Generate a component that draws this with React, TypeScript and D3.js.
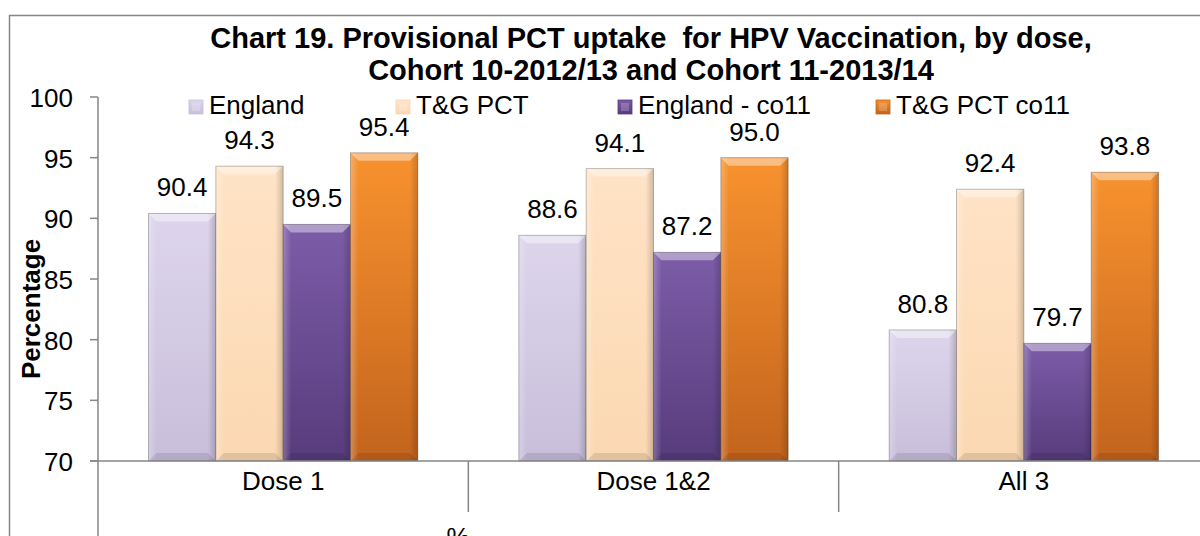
import { useEffect } from "react";
import * as d3 from "d3";

const categories = ["Dose 1", "Dose 1&2", "All 3"];
const seriesNames = ["England", "T&G PCT", "England - co11", "T&G PCT co11"];
const england = [90.4, 88.6, 80.8];
const tgPct = [94.3, 94.1, 92.4];
const englandCo11 = [89.5, 87.2, 79.7];
const tgPctCo11 = [95.4, 95.0, 93.8];
const yTicks = [70, 75, 80, 85, 90, 95, 100];

const seriesValues = [england, tgPct, englandCo11, tgPctCo11];
// top / bottom colours for each series' gradient
const palette = [
  ["#ddd5ec", "#c8bedb"],
  ["#ffe3c6", "#fbd8b2"],
  ["#7c5ca8", "#573c7c"],
  ["#f8922f", "#c3641d"],
];
const legendX = [189, 396, 618, 876];

const FONT = "'Liberation Sans', Arial, sans-serif";
const W = 1200;
const H = 536;

const App = () => {
  useEffect(() => {
    document.body.style.margin = "0";
  }, []);

  const y = d3.scaleLinear().domain([70, 100]).range([461, 97]);
  const x0 = d3.scaleBand().domain(categories).range([98, 1209]).padding(0);
  const x1 = d3
    .scaleBand()
    .domain(seriesNames)
    .range([0, x0.bandwidth()])
    .paddingInner(0)
    .paddingOuter(0.75);
  const bw = x1.bandwidth();
  const bevel = 8;

  return (
    <svg width={W} height={H} style={{ display: "block" }} fontFamily={FONT}>
      <defs>
        {palette.map((c, i) => (
          <linearGradient key={i} id={`g${i}`} x1="0" y1="0" x2="0" y2="1">
            <stop offset="0" stopColor={c[0]} />
            <stop offset="1" stopColor={c[1]} />
          </linearGradient>
        ))}
        <linearGradient id="side" x1="0" y1="0" x2="1" y2="0">
          <stop offset="0" stopColor="#fff" stopOpacity="0.25" />
          <stop offset="0.12" stopColor="#fff" stopOpacity="0" />
          <stop offset="0.88" stopColor="#000" stopOpacity="0" />
          <stop offset="1" stopColor="#000" stopOpacity="0.18" />
        </linearGradient>
      </defs>
      <rect width={W} height={H} fill="#fff" />

      {/* chart frame */}
      <path d={`M9.5,${H} V15.5 H${W}`} fill="none" stroke="#868686" strokeWidth={1.5} />

      {/* title */}
      <text x={651} y={48} textAnchor="middle" fontWeight="bold" fontSize={29}>
        Chart 19. Provisional PCT uptake{"\u00a0"} for HPV Vaccination, by dose,
      </text>
      <text x={651} y={80} textAnchor="middle" fontWeight="bold" fontSize={29}>
        Cohort 10-2012/13 and Cohort 11-2013/14
      </text>

      {/* legend */}
      {seriesNames.map((s, i) => (
        <g key={s}>
          <rect x={legendX[i]} y={100} width={14} height={14} fill={`url(#g${i})`} stroke={palette[i][1]} strokeWidth={0.8} />
          <rect x={legendX[i] + 3} y={103} width={8} height={8} fill="#fff" fillOpacity={0.2} />
          <text x={legendX[i] + 20} y={114} fontSize={26}>
            {s}
          </text>
        </g>
      ))}

      {/* bars */}
      {categories.map((c, ci) => (
        <g key={c} transform={`translate(${x0(c)},0)`}>
          {seriesNames.map((s, si) => {
            const v = seriesValues[si][ci];
            const bx = x1(s) as number;
            const top = y(v);
            const bottom = y(70);
            return (
              <g key={s}>
                <rect x={bx} y={top} width={bw} height={bottom - top} fill={`url(#g${si})`} />
                <rect x={bx} y={top} width={bw} height={bottom - top} fill="url(#side)" />
                <path
                  d={`M${bx},${top} H${bx + bw} L${bx + bw - bevel},${top + bevel} H${bx + bevel} Z`}
                  fill="#fff"
                  fillOpacity={0.4}
                />
                <path
                  d={`M${bx},${bottom} H${bx + bw} L${bx + bw - bevel},${bottom - bevel} H${bx + bevel} Z`}
                  fill="#000"
                  fillOpacity={0.1}
                />
                <rect x={bx} y={top} width={bw} height={bottom - top} fill="none" stroke="#000" strokeOpacity={0.25} strokeWidth={1} />
                <text x={bx + bw / 2} y={top - 17} textAnchor="middle" fontSize={26}>
                  {v.toFixed(1)}
                </text>
              </g>
            );
          })}
        </g>
      ))}

      {/* y axis */}
      <line x1={98} x2={98} y1={y(100)} y2={H} stroke="#868686" strokeWidth={1.5} />
      {yTicks.map((t) => (
        <g key={t}>
          <line x1={90} x2={98} y1={y(t)} y2={y(t)} stroke="#868686" strokeWidth={1.5} />
          <text x={73} y={y(t) + 10} textAnchor="end" fontSize={26}>
            {t}
          </text>
        </g>
      ))}
      <text
        transform={`translate(40,309) rotate(-90)`}
        textAnchor="middle"
        fontWeight="bold"
        fontSize={26}
      >
        Percentage
      </text>

      {/* x axis */}
      <line x1={90} x2={W} y1={y(70)} y2={y(70)} stroke="#868686" strokeWidth={1.5} />
      {categories.slice(1).map((c) => (
        <line key={c} x1={x0(c)} x2={x0(c)} y1={y(70)} y2={512} stroke="#868686" strokeWidth={1.5} />
      ))}
      {categories.map((c) => (
        <text key={c} x={(x0(c) as number) + x0.bandwidth() / 2} y={490} textAnchor="middle" fontSize={26}>
          {c}
        </text>
      ))}
      <text x={458} y={546} textAnchor="middle" fontSize={26}>
        %
      </text>
    </svg>
  );
};

export default App;
